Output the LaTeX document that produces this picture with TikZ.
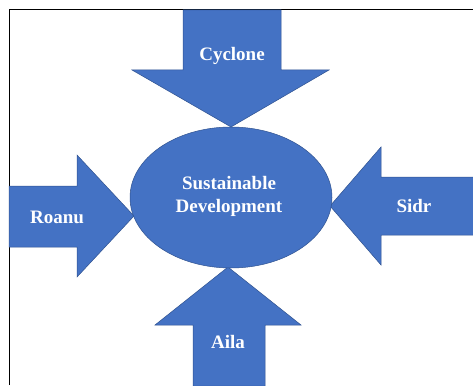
\documentclass[tikz,border=0pt]{standalone}
\usepackage{fontspec}
\setmainfont{Liberation Serif}
\usetikzlibrary{shapes.geometric}
\definecolor{stormblue}{HTML}{4472C4}
\definecolor{stormedge}{HTML}{2F528F}

\begin{document}
\begin{tikzpicture}[x=1pt, y=-1pt, every node/.style = {text=white, align=center, font=\bfseries\fontsize{19}{23}\selectfont}, storm/.style = {fill=stormblue, draw=stormedge, line width=0.5pt, line join=miter}]
            \useasboundingbox (0,0) rectangle (473,385);
            \draw[line width=1pt] (9,385) -- (9,10) -- (473,10);
            % the four arrows
            \draw[storm] (183,10) -- (183,70) -- (132,70) -- (231,127) -- (329,70) -- (281,70) -- (281,10) -- cycle;
            \draw[storm] (9,186) -- (77,186) -- (77,155) -- (134,216) -- (77,277) -- (77,247) -- (9,247) -- cycle;
            \draw[storm] (474,177) -- (381,177) -- (381,147) -- (330,206) -- (381,265) -- (381,235) -- (474,235) -- cycle;
            \draw[storm] (193,386) -- (193,325) -- (155,325) -- (228,267) -- (301,325) -- (265,325) -- (265,386) -- cycle;
            \node[storm, shape=ellipse, inner sep=0pt, minimum width=202pt, minimum height=141pt] (dev) at (231,197.5) {};
            \node (sustain) at (229,196.5) {Sustainable\\Development};
            \node (cyclone) at (232,56) {Cyclone};
            \node (roanu) at (57,217) {Roanu};
            \node (sidr) at (414,206) {Sidr};
            \node (aila) at (228,342) {Aila};
        \end{tikzpicture}
\end{document}
